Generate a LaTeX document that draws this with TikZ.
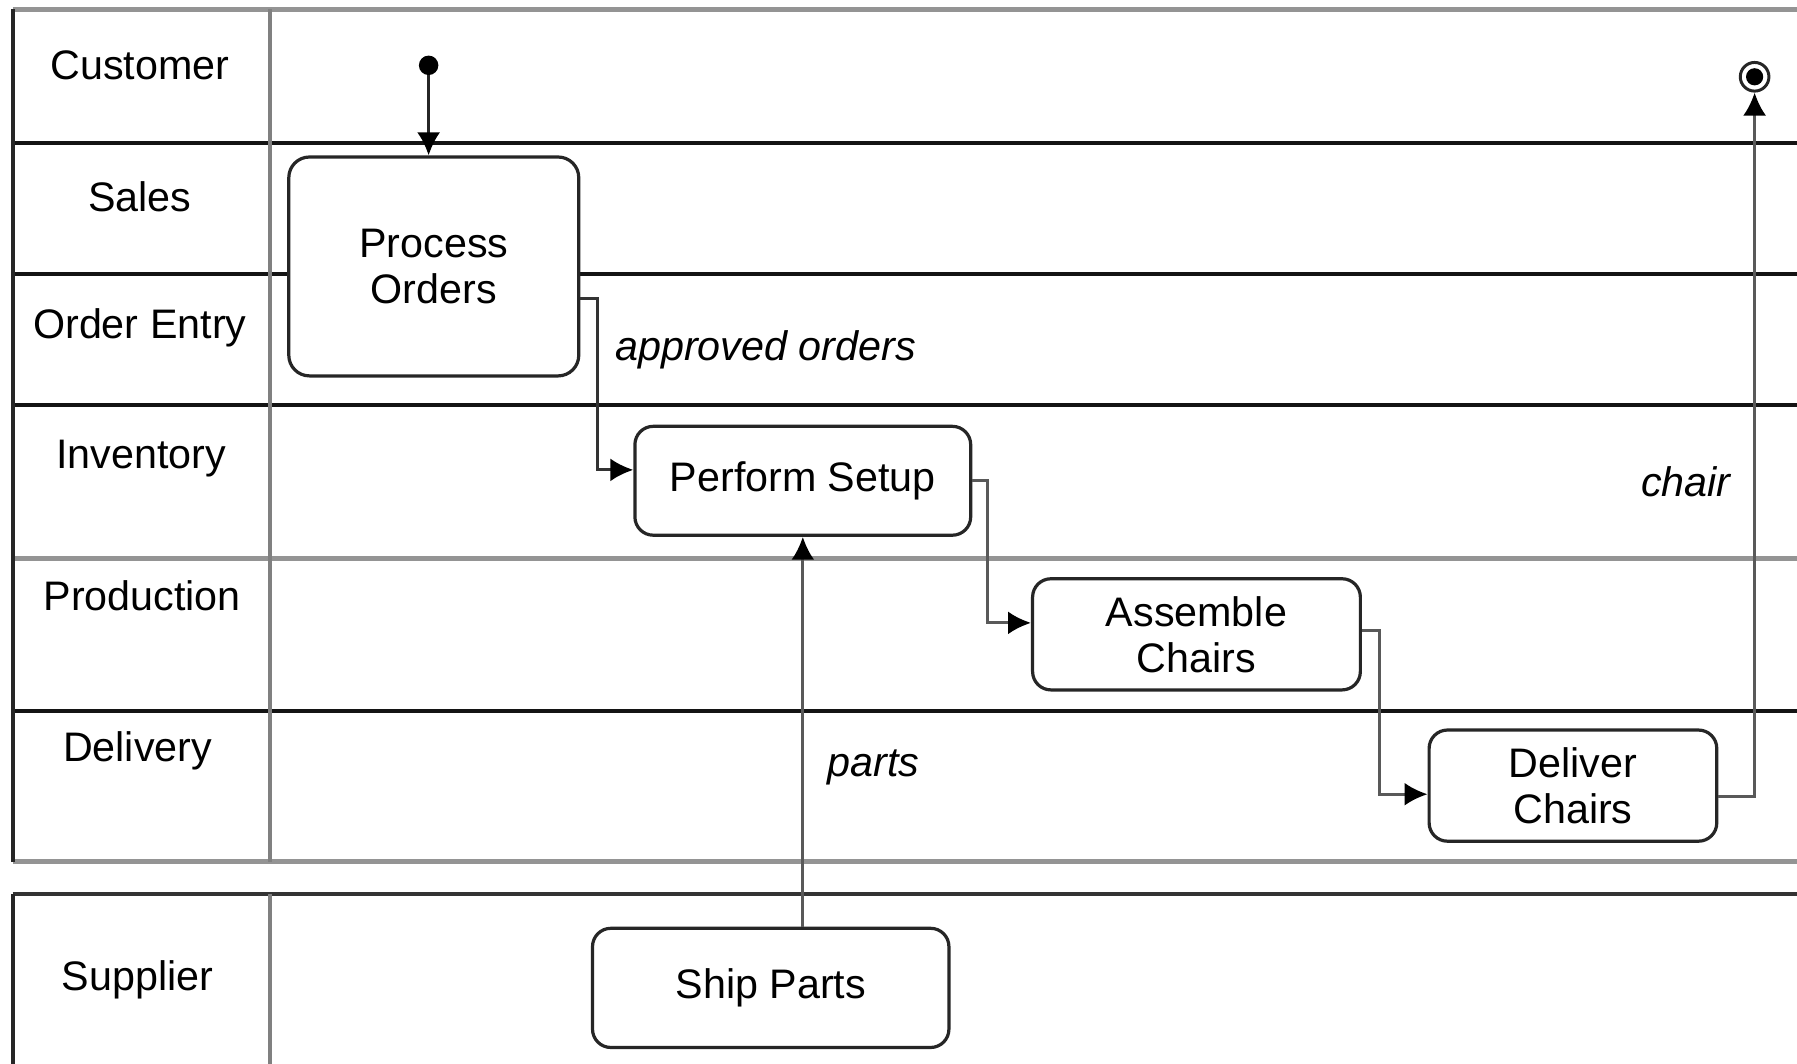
\documentclass[tikz,border=0pt]{standalone}
\usepackage{fontspec}
\setmainfont{Liberation Sans}
\usetikzlibrary{arrows.meta,calc}
\begin{document}
\begin{tikzpicture}[x=1pt,y=-1pt,
  lanelabel/.style={font=\fontsize{36}{40}\selectfont, inner sep=0pt, anchor=center},
  act/.style={draw=black!85, line width=2.8pt, rounded corners=16pt, fill=white, align=center,
              font=\fontsize{36}{40}\selectfont, inner sep=0pt},
  conn/.style={draw=black!65, line width=2.6pt, -{Latex[length=20pt,width=20pt,black]}},
  flowlabel/.style={font=\fontsize{36}{40}\selectfont\itshape, inner sep=0pt},
  blackline/.style={line width=3.4pt, black!92},
  grayline/.style={line width=4.5pt, black!42},
  vline/.style={line width=3.5pt, black!50},
]
\useasboundingbox (0,0) rectangle (1568,928);
% main pool
\draw[grayline] (11,8) -- (1568,8);
\draw[blackline] (11,125) -- (1568,125);
\draw[blackline] (11,239) -- (1568,239);
\draw[blackline] (11,353) -- (1568,353);
\draw[grayline] (11,487) -- (1568,487);
\draw[blackline] (11,620) -- (1568,620);
\draw[grayline] (11,752) -- (1568,752);
\draw[line width=3.4pt, black!85] (11,8) -- (11,752);
\draw[vline] (236,8) -- (236,752);
% supplier pool
\draw[line width=3.4pt, black!80] (11,780) -- (1568,780);
\draw[line width=3.4pt, black!85] (11,780) -- (11,928);
\draw[vline] (236,780) -- (236,928);
% lane labels
\node[lanelabel] (lCustomer) at (122,57) {Customer};
\node[lanelabel] (lSales) at (122,172) {Sales};
\node[lanelabel] (lOrder) at (122,286) {Order Entry};
\node[lanelabel] (lInventory) at (123,400) {Inventory};
\node[lanelabel] (lProduction) at (124,520) {Production};
\node[lanelabel] (lDelivery) at (120,655) {Delivery};
\node[lanelabel] (lSupplier) at (120,855) {Supplier};
% activities
\node[act, minimum width=253pt, minimum height=191pt, rounded corners=18pt] (po) at (378.5,232.5) {Process\\Orders};
\node[act, minimum width=293pt, minimum height=95pt] (ps) at (700.5,419.5) {Perform Setup};
\node[act, minimum width=286pt, minimum height=97pt] (ac) at (1044,553.5) {Assemble\\Chairs};
\node[act, minimum width=251pt, minimum height=97pt] (dc) at (1372.5,685.5) {Deliver\\Chairs};
\node[act, minimum width=311pt, minimum height=104pt] (sp) at (672.5,862) {Ship Parts};
% start / end
\node[circle, fill=black, minimum size=17pt, inner sep=0pt] (start) at (374,57) {};
\node[circle, draw=black!85, line width=2.6pt, minimum size=25pt, inner sep=0pt] (end) at (1531,67) {};
\fill[black] (end.center) circle (7.5pt);
% connectors
\draw[conn, draw=black!85] (start) -- (start |- po.north);
\draw[conn, draw=black!80] ([yshift=-28pt]po.east) -- ++(15,0) |- ([yshift=9.5pt]ps.west);
\draw[conn] (ps.east) -- ++(13,0) |- ([yshift=10pt]ac.west);
\draw[conn] ([yshift=3pt]ac.east) -- ++(15,0) |- ([yshift=-7.5pt]dc.west);
\draw[conn] ([yshift=-9.5pt]dc.east) -| (end.south);
\draw[conn] (sp.north -| ps.south) -- (ps.south);
% flow labels
\node[flowlabel] (lApproved) at (668,305) {approved orders};
\node[flowlabel] (lParts) at (762,670) {parts};
\node[flowlabel] (lChair) at (1471,420) {chair};
\end{tikzpicture}
\end{document}
